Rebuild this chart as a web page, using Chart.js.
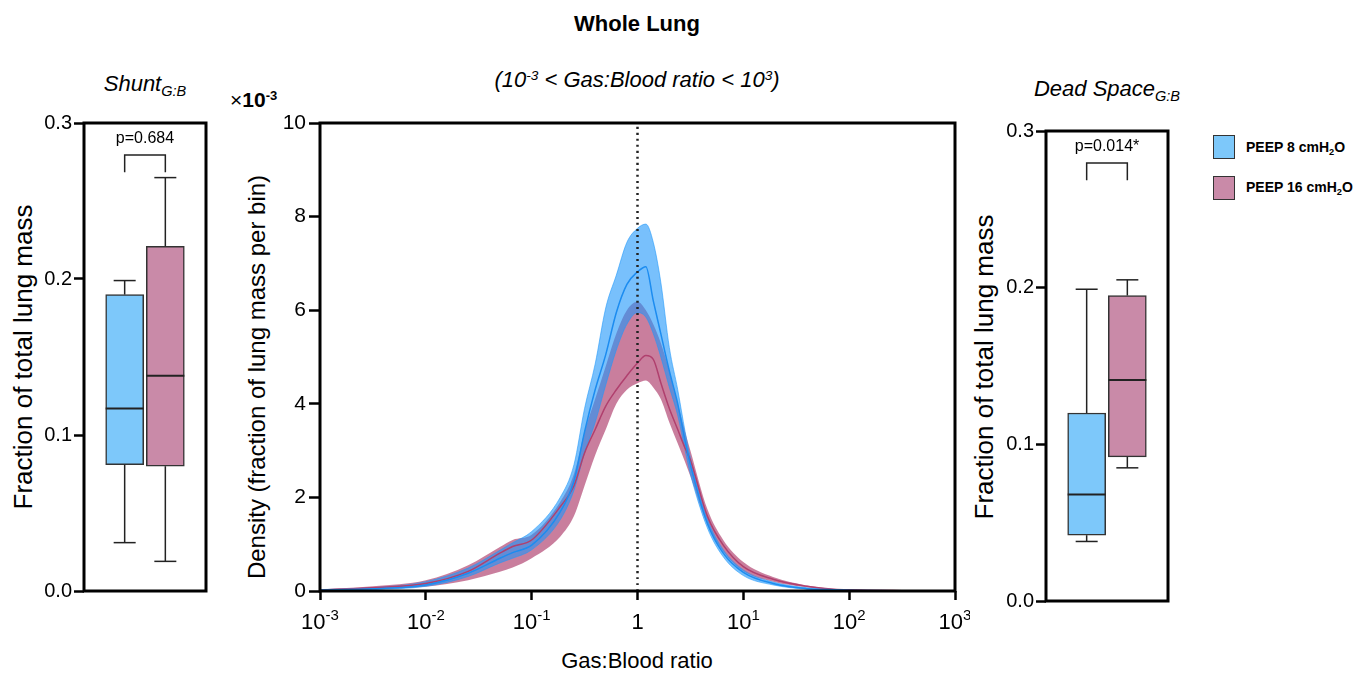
<!DOCTYPE html>
<html>
<head>
<meta charset="utf-8">
<title>Whole Lung</title>
<script src="https://cdn.jsdelivr.net/npm/chart.js@4.4.0/dist/chart.umd.min.js"></script>
<style>
  body { margin: 0; width: 1370px; height: 675px; background: #fff; position: relative; overflow: hidden;
         font-family: 'Liberation Sans', Arial, sans-serif; color: #000; }
  canvas { position: absolute; }
  .t { position: absolute; white-space: nowrap; transform: translate(-50%, -50%); line-height: 1; }
  .rot { transform: translate(-50%, -50%) rotate(-90deg); }
  .b { font-weight: bold; }
  .i { font-style: italic; }
  sup { font-size: 0.62em; vertical-align: 0.5em; line-height: 0; }
  sub { font-size: 0.66em; vertical-align: -0.35em; line-height: 0; }
  .sw { position: absolute; width: 20px; height: 22px; border: 1.5px solid #333; }
  .lg { position: absolute; font-size: 14px; font-weight: bold; transform: translateY(-50%); white-space: nowrap; }
</style>
</head>
<body>

<div class="t b" style="left:637px; top:24px; font-size:22px;">Whole Lung</div>
<div class="t i" style="left:637px; top:80px; font-size:22px;">(10<sup>-3</sup> &lt; Gas:Blood ratio &lt; 10<sup>3</sup>)</div>
<div class="t i" style="left:145px; top:84px; font-size:22px;">Shunt<sub>G:B</sub></div>
<div class="t i" style="left:1107px; top:89px; font-size:22px;">Dead Space<sub>G:B</sub></div>
<div style="position:absolute; left:230px; top:99px; font-size:21px; transform:translateY(-50%); white-space:nowrap; line-height:1;">×<b>10<sup>-3</sup></b></div>

<div class="t rot" style="left:23px; top:357px; font-size:26px;">Fraction of total lung mass</div>
<div class="t rot" style="left:984px; top:367px; font-size:26px;">Fraction of total lung mass</div>
<div class="t rot" style="left:257px; top:377px; font-size:24px;">Density (fraction of lung mass per bin)</div>
<div class="t" style="left:637px; top:661px; font-size:22px;">Gas:Blood ratio</div>

<div class="sw" style="left:1213px; top:135px; background:#7dc8fa;"></div>
<div class="lg" style="left:1246px; top:147px;">PEEP 8 cmH<sub>2</sub>O</div>
<div class="sw" style="left:1213px; top:176px; background:#c98aa8;"></div>
<div class="lg" style="left:1246px; top:187px;">PEEP 16 cmH<sub>2</sub>O</div>

<canvas id="shunt" width="220" height="510" style="left:0px; top:100px;"></canvas>
<canvas id="density" width="750" height="580" style="left:220px; top:100px;"></canvas>
<canvas id="dead" width="220" height="520" style="left:960px; top:100px;"></canvas>

<script>
// ---- data ----
const groups = ["PEEP 8 cmH\u2082O", "PEEP 16 cmH\u2082O"];

const shuntMin    = [0.031, 0.019];
const shuntQ1     = [0.081, 0.080];
const shuntMedian = [0.117, 0.138];
const shuntQ3     = [0.190, 0.221];
const shuntMax    = [0.199, 0.265];
const shuntP = "p=0.684";

const deadMin    = [0.038, 0.085];
const deadQ1     = [0.042, 0.092];
const deadMedian = [0.068, 0.141];
const deadQ3     = [0.120, 0.195];
const deadMax    = [0.199, 0.205];
const deadP = "p=0.014*";

const boxTicks = [0, 0.1, 0.2, 0.3];
const densityTicks = [0, 2, 4, 6, 8, 10];
const ratioTicks = [0.001, 0.01, 0.1, 1, 10, 100, 1000];
const ratioTickBase = ["10", "10", "10", "1", "10", "10", "10"];
const ratioTickExp = ["-3", "-2", "-1", "", "1", "2", "3"];
const dividerRatio = 1;

// density curves (x10^-3)
const gasBloodRatio = [0.001, 0.00316, 0.01, 0.0251, 0.0501, 0.0661, 0.1, 0.186, 0.251, 0.316,
  0.398, 0.501, 0.631, 0.794, 1, 1.2, 1.41, 1.66, 2.0, 2.4,
  2.82, 3.16, 4.57, 6.46, 10, 19.1, 39.8, 70.8, 100, 316, 1000];
const peep8Upper = [0.03, 0.07, 0.2, 0.49, 0.87, 1.03, 1.27, 2.0, 2.7, 3.9,
  4.85, 6.05, 6.75, 7.45, 7.75, 7.84, 7.45, 6.6, 5.2, 4.3,
  3.4, 2.85, 1.55, 0.88, 0.45, 0.19, 0.07, 0.03, 0.02, 0.01, 0.003];
const peep8Mean = [0.02, 0.05, 0.13, 0.38, 0.7, 0.82, 0.98, 1.69, 2.35, 3.4,
  4.3, 5.05, 5.95, 6.55, 6.82, 6.93, 6.2, 5.5, 4.7, 4.0,
  3.2, 2.7, 1.45, 0.81, 0.4, 0.16, 0.05, 0.025, 0.015, 0.005, 0.002];
const peep8Lower = [0.01, 0.03, 0.1, 0.31, 0.6, 0.7, 0.88, 1.52, 2.15, 2.95,
  3.6, 4.4, 5.15, 5.7, 5.95, 5.85, 5.5, 5.0, 4.35, 3.75,
  3.0, 2.5, 1.35, 0.73, 0.33, 0.13, 0.04, 0.02, 0.01, 0.003, 0.001];
const peep16Upper = [0.03, 0.1, 0.23, 0.55, 0.94, 1.09, 1.2, 1.9, 2.5, 3.4,
  4.1, 4.8, 5.5, 6.0, 6.18, 6.0, 5.7, 5.3, 4.7, 4.0,
  3.4, 3.0, 1.75, 1.09, 0.62, 0.3, 0.12, 0.05, 0.03, 0.01, 0.003];
const peep16Mean = [0.02, 0.07, 0.16, 0.42, 0.81, 0.95, 1.09, 1.8, 2.25, 2.95,
  3.45, 3.95, 4.3, 4.6, 4.87, 5.03, 4.95, 4.45, 3.9, 3.45,
  3.05, 2.8, 1.6, 0.98, 0.52, 0.25, 0.1, 0.04, 0.025, 0.008, 0.002];
const peep16Lower = [0.01, 0.04, 0.09, 0.23, 0.41, 0.5, 0.7, 1.16, 1.6, 2.25,
  2.9, 3.45, 4.0, 4.3, 4.44, 4.5, 4.35, 4.1, 3.6, 3.15,
  2.75, 2.45, 1.42, 0.84, 0.42, 0.2, 0.08, 0.03, 0.02, 0.005, 0.001];

// ---- styles ----
const fontReg = "'Liberation Sans', Arial, sans-serif";
const boxColors = ["#7dc8fa", "#c98aa8"];

Chart.defaults.font.family = fontReg;
Chart.defaults.color = "#000";

const framePlugin = {
  id: "frame",
  afterDatasetsDraw(chart) {
    const { ctx, chartArea: a } = chart;
    ctx.save();
    ctx.lineWidth = 3;
    ctx.strokeStyle = "#000";
    ctx.strokeRect(a.left, a.top, a.right - a.left, a.bottom - a.top);
    ctx.restore();
  }
};

function pts(ys) {
  return gasBloodRatio.map((x, i) => ({ x, y: ys[i] }));
}

/* Box plot panel: floating bars for the boxes, plugin for whiskers / median / bracket */
function buildBoxChart(id, mins, q1s, meds, q3s, maxs, pText, yWidth, pad) {
  const labels = ["", groups[0], groups[1], ""];
  const datasets = groups.map((g, i) => ({
    label: g,
    data: labels.map((_, j) => (j === i + 1 ? [q1s[i], q3s[i]] : null)),
    backgroundColor: boxColors[i],
    borderColor: "#333",
    borderWidth: 1.5,
    borderSkipped: false,
    barThickness: 38,
    grouped: false
  }));

  const extras = {
    id: "boxExtras",
    afterDatasetsDraw(chart) {
      const ctx = chart.ctx, y = chart.scales.y;
      const centers = [];
      ctx.save();
      ctx.strokeStyle = "#222";
      ctx.lineWidth = 1.5;
      const seg = (x1, y1, x2, y2) => { ctx.beginPath(); ctx.moveTo(x1, y1); ctx.lineTo(x2, y2); ctx.stroke(); };
      groups.forEach((g, i) => {
        const bar = chart.getDatasetMeta(i).data[i + 1];
        const cx = bar.x, half = bar.width / 2, cap = 11;
        centers.push(cx);
        const pMax = y.getPixelForValue(maxs[i]), pMin = y.getPixelForValue(mins[i]);
        seg(cx, y.getPixelForValue(q3s[i]), cx, pMax);
        seg(cx - cap, pMax, cx + cap, pMax);
        seg(cx, y.getPixelForValue(q1s[i]), cx, pMin);
        seg(cx - cap, pMin, cx + cap, pMin);
        ctx.lineWidth = 2;
        const pMed = y.getPixelForValue(meds[i]);
        seg(cx - half, pMed, cx + half, pMed);
        ctx.lineWidth = 1.5;
      });
      // significance bracket
      const top = y.getPixelForValue(0.2795), leg = y.getPixelForValue(0.2685);
      ctx.beginPath();
      ctx.moveTo(centers[0], leg);
      ctx.lineTo(centers[0], top);
      ctx.lineTo(centers[1], top);
      ctx.lineTo(centers[1], leg);
      ctx.stroke();
      ctx.fillStyle = "#000";
      ctx.font = "16px " + fontReg;
      ctx.textAlign = "center";
      ctx.textBaseline = "middle";
      ctx.fillText(pText, (centers[0] + centers[1]) / 2, y.getPixelForValue(0.2898));
      ctx.restore();
    }
  };

  return new Chart(document.getElementById(id), {
    type: "bar",
    data: { labels, datasets },
    options: {
      responsive: false,
      animation: false,
      devicePixelRatio: 1,
      layout: { padding: pad },
      plugins: { legend: { display: false }, tooltip: { enabled: false } },
      scales: {
        x: { type: "category", offset: false, display: false },
        y: {
          min: 0, max: 0.3,
          afterBuildTicks: s => { s.ticks = boxTicks.map(v => ({ value: v })); },
          afterFit: s => { s.width = yWidth; },
          ticks: { callback: v => Number(v).toFixed(1), font: { size: 20, family: fontReg }, padding: 2, color: "#000" },
          grid: { drawOnChartArea: false, drawTicks: true, tickLength: 10, tickWidth: 2.5, color: "#000" },
          border: { display: false }
        }
      }
    },
    plugins: [extras, framePlugin]
  });
}

buildBoxChart("shunt", shuntMin, shuntQ1, shuntMedian, shuntQ3, shuntMax, shuntP, 84,
  { top: 23, right: 14, bottom: 19, left: 0 });
buildBoxChart("dead", deadMin, deadQ1, deadMedian, deadQ3, deadMax, deadP, 86,
  { top: 31, right: 12, bottom: 19, left: 0 });

/* Density panel */
// log tick labels with a raised exponent, placed under each decade tick
const xTickLabels = {
  id: "xTickLabels",
  afterDraw(chart) {
    const ctx = chart.ctx, xs = chart.scales.x;
    const base = chart.chartArea.bottom;
    ctx.save();
    ctx.fillStyle = "#000";
    ctx.textAlign = "left";
    ctx.textBaseline = "alphabetic";
    ratioTicks.forEach((v, i) => {
      const px = xs.getPixelForValue(v);
      ctx.font = "22px " + fontReg;
      const wb = ctx.measureText(ratioTickBase[i]).width;
      ctx.font = "15px " + fontReg;
      const we = ratioTickExp[i] ? ctx.measureText(ratioTickExp[i]).width : 0;
      const start = px - (wb + we) / 2;
      ctx.font = "22px " + fontReg;
      ctx.fillText(ratioTickBase[i], start, base + 38);
      if (ratioTickExp[i]) {
        ctx.font = "15px " + fontReg;
        ctx.fillText(ratioTickExp[i], start + wb, base + 29);
      }
    });
    ctx.restore();
  }
};

const lineBase = { pointRadius: 0, tension: 0, cubicInterpolationMode: "monotone" };

new Chart(document.getElementById("density"), {
  type: "line",
  data: {
    datasets: [
      { ...lineBase, label: "1", data: [{ x: dividerRatio, y: densityTicks[0] }, { x: dividerRatio, y: densityTicks[densityTicks.length - 1] }],
        borderColor: "#222", borderWidth: 2.5, borderDash: [2, 4], fill: false },
      { ...lineBase, label: "PEEP 8 mean", data: pts(peep8Mean), borderColor: "#1c8cf0", borderWidth: 1.5, fill: false },
      { ...lineBase, label: "PEEP 16 mean", data: pts(peep16Mean), borderColor: "#b0406e", borderWidth: 1.5, fill: false },
      { ...lineBase, label: "PEEP 8 upper", data: pts(peep8Upper), borderColor: "rgba(30,150,250,0.7)", borderWidth: 0.8,
        backgroundColor: "rgba(30,150,250,0.6)", fill: "+1" },
      { ...lineBase, label: "PEEP 8 lower", data: pts(peep8Lower), borderColor: "rgba(30,150,250,0.7)", borderWidth: 0.8, fill: false },
      { ...lineBase, label: "PEEP 16 upper", data: pts(peep16Upper), borderWidth: 0,
        backgroundColor: "rgba(170,50,100,0.63)", fill: "+1" },
      { ...lineBase, label: "PEEP 16 lower", data: pts(peep16Lower), borderWidth: 0, fill: false }
    ]
  },
  options: {
    responsive: false,
    animation: false,
    devicePixelRatio: 1,
    layout: { padding: { top: 23, right: 15, bottom: 0, left: 0 } },
    plugins: { legend: { display: false }, tooltip: { enabled: false } },
    scales: {
      x: {
        type: "logarithmic",
        min: ratioTicks[0], max: ratioTicks[ratioTicks.length - 1],
        afterBuildTicks: s => { s.ticks = ratioTicks.map(v => ({ value: v })); },
        afterFit: s => { s.height = 89; },
        ticks: { display: false },
        grid: { drawOnChartArea: false, drawTicks: true, tickLength: 9, tickWidth: 2.5, color: "#000" },
        border: { display: false }
      },
      y: {
        min: densityTicks[0], max: densityTicks[densityTicks.length - 1],
        afterBuildTicks: s => { s.ticks = densityTicks.map(v => ({ value: v })); },
        afterFit: s => { s.width = 100; },
        ticks: { font: { size: 21, family: fontReg }, padding: 3, color: "#000" },
        grid: { drawOnChartArea: false, drawTicks: true, tickLength: 11, tickWidth: 2.5, color: "#000" },
        border: { display: false }
      }
    }
  },
  plugins: [framePlugin, xTickLabels]
});
</script>
</body>
</html>
